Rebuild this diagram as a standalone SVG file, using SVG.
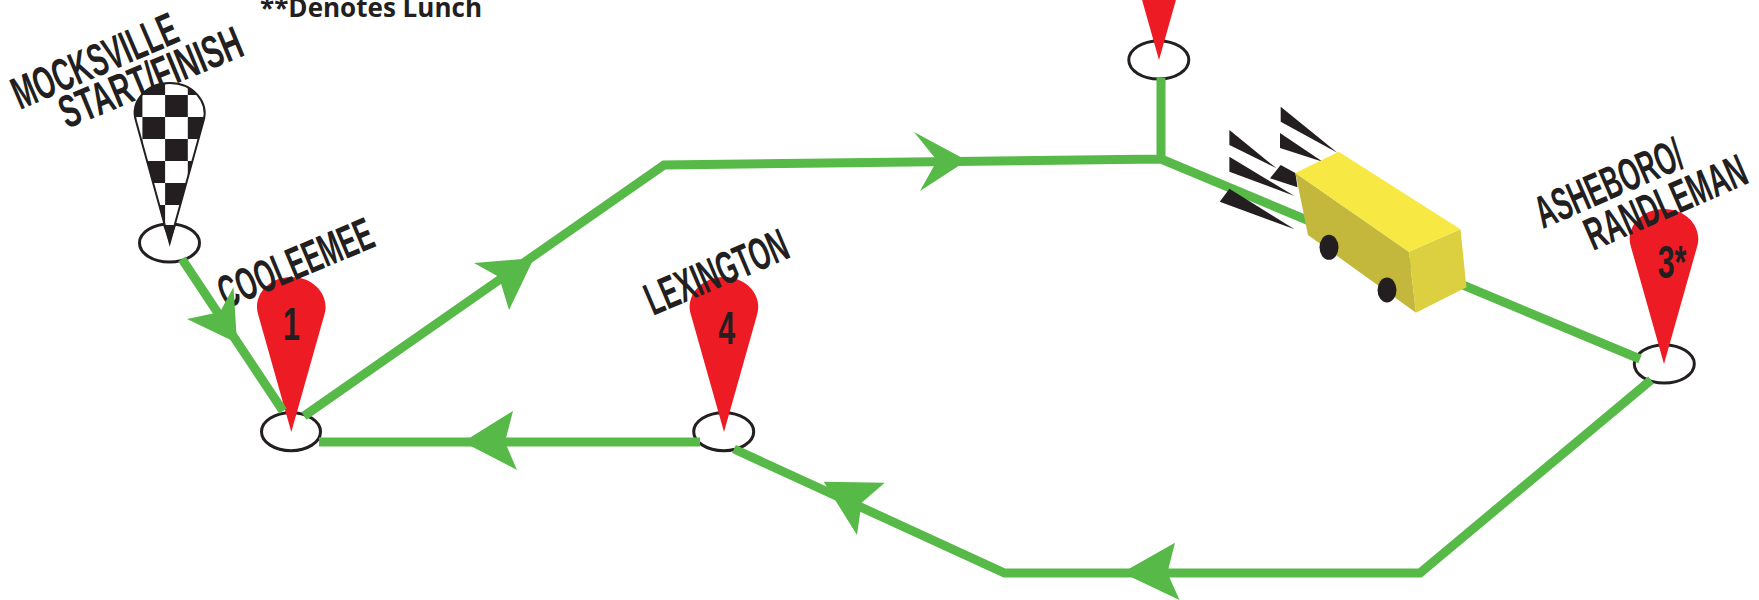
<svg xmlns="http://www.w3.org/2000/svg" width="1759" height="600" viewBox="0 0 1759 600">
<style>
.ring{fill:#fff;stroke:#231f20;stroke-width:3}
.pin{fill:#ed1c24}
.lbl{font-family:"Liberation Sans",Arial,sans-serif;font-weight:700;font-size:46px;fill:#231f20}
.num{font-family:"Liberation Sans",Arial,sans-serif;font-weight:700;font-size:46px;fill:#231f20;text-anchor:middle}
.note{font-family:"Open Sans",sans-serif;font-weight:700;font-size:27px;fill:#231f20}
.road{fill:none;stroke:#57b947;stroke-width:9;stroke-linejoin:miter}
.head{fill:#57b947}
.k{fill:#231f20}
</style>
<defs>
<path id="drop" d="M0,0 L-33,-117 C-39,-135 -24,-155 0,-155 C24,-155 39,-135 33,-117 Z"/>
<pattern id="check" patternUnits="userSpaceOnUse" x="142.4" y="95" width="45.4" height="44">
<rect width="45.4" height="44" fill="#fff"/>
<rect x="22.7" y="0" width="22.7" height="22" fill="#231f20"/>
<rect x="0" y="22" width="22.7" height="22" fill="#231f20"/>
</pattern>
</defs>
<text class="note" x="260" y="17" textLength="222" lengthAdjust="spacingAndGlyphs">**Denotes Lunch</text>
<g id="node-start">
<ellipse class="ring" cx="169.5" cy="243" rx="30" ry="19"/>
<text class="lbl" transform="translate(20,110) rotate(-23.2)" textLength="176" lengthAdjust="spacingAndGlyphs">MOCKSVILLE</text>
<text class="lbl" transform="translate(67,129) rotate(-22.5)" textLength="194" lengthAdjust="spacingAndGlyphs">START/FINISH</text>
<path d="M169.7,243 L136,121 C130,102 146,83 169.7,83 C193,83 209,102 203.5,121 Z" fill="url(#check)" stroke="#231f20" stroke-width="2"/>
<path class="k" d="M163,225 L176,225 L169.7,243 Z"/>
</g>
<g id="node-cooleemee">
<ellipse class="ring" cx="291" cy="431.7" rx="29.5" ry="19"/>
<use href="#drop" class="pin" x="291.3" y="432"/>
<text class="lbl" transform="translate(226,309) rotate(-22.6)" textLength="164" lengthAdjust="spacingAndGlyphs">COOLEEMEE</text>
<text class="num" transform="translate(291.5,340) scale(.66,1)">1</text>
</g>
<g id="node-lexington">
<ellipse class="ring" cx="723.7" cy="431.7" rx="30" ry="19"/>
<use href="#drop" class="pin" x="724" y="432"/>
<text class="lbl" transform="translate(653,316) rotate(-23)" textLength="151" lengthAdjust="spacingAndGlyphs">LEXINGTON</text>
<text class="num" transform="translate(726.8,343.5) scale(.66,1)">4</text>
</g>
<g id="node-2">
<ellipse class="ring" cx="1158.8" cy="60" rx="30" ry="19"/>
<use href="#drop" class="pin" x="1159" y="60"/>
</g>
<g id="node-asheboro">
<ellipse class="ring" cx="1664.3" cy="364" rx="30" ry="19"/>
<use href="#drop" class="pin" x="1664" y="364"/>
<text class="lbl" transform="translate(1543,229) rotate(-23.5)" textLength="157" lengthAdjust="spacingAndGlyphs">ASHEBORO/</text>
<text class="lbl" transform="translate(1593,251) rotate(-23.5)" textLength="172" lengthAdjust="spacingAndGlyphs">RANDLEMAN</text>
<text class="num" transform="translate(1672,278) scale(.66,1)">3*</text>
</g>
<g id="connectors">
<path class="road" d="M182,259 L283,411"/>
<path class="road" d="M304,416 L664,165 L1161,159 M1161,159 V78 M1161,159 L1640,359"/>
<path class="road" d="M1651,380 L1420,573 H1004.5 L734,449"/>
<path class="road" d="M700,442 H319"/>
<polygon class="head" points="237,343 187,319 220,312 233.5,287"/>
<polygon class="head" points="534,258 474,263 499,277 509,310"/>
<polygon class="head" points="967,160.5 914,132 937,160.5 920,191"/>
<polygon class="head" points="463,442 513,411 505,442 517,470"/>
<polygon class="head" points="823.7,481.7 884.8,482.7 861.6,502.7 857,535"/>
<polygon class="head" points="1122,572.7 1175,542.7 1167.4,572.7 1179.5,600"/>
</g>
<g id="bus">
<polygon class="k" points="1280.7,106.7 1337.4,152.7 1280.7,121.7"/>
<polygon class="k" points="1280,133 1322.7,161.7 1280,148"/>
<polygon class="k" points="1229.4,130 1276.5,168.3 1229.4,145"/>
<polygon class="k" points="1229.4,156.7 1294.5,196 1229.4,171.7"/>
<polygon class="k" points="1280.7,165 1270,178.3 1297.5,187.3 1295.4,173"/>
<polygon class="k" points="1229.4,188.7 1219.7,201.7 1294.5,229.3"/>
<polygon fill="#c4b83c" points="1295.4,173 1408.8,251.7 1416,312.7 1308,235"/>
<polygon fill="#ddd040" points="1408.8,251.7 1460.5,229.3 1466.4,287.3 1416,312.7"/>
<polygon fill="#f7e843" points="1295.4,173 1338.7,151.7 1460.5,229.3 1408.8,251.7"/>
<ellipse class="k" cx="1329" cy="247.3" rx="9.5" ry="12.5"/>
<ellipse class="k" cx="1387" cy="290" rx="9.5" ry="12.5"/>
</g>
</svg>
